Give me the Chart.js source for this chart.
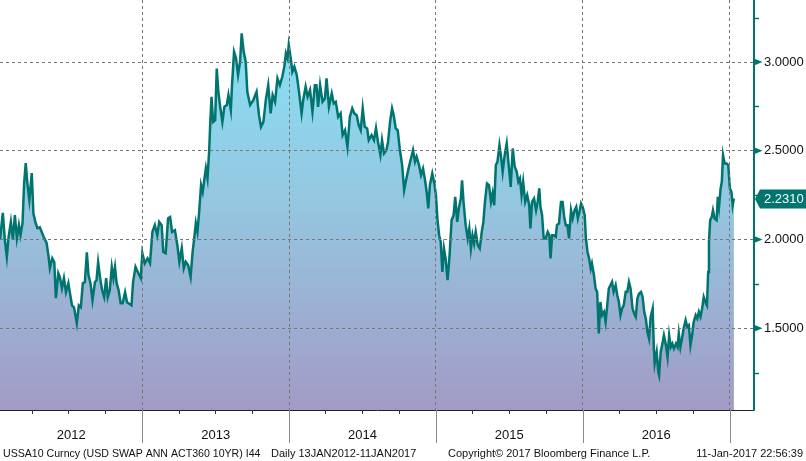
<!DOCTYPE html>
<html>
<head>
<meta charset="utf-8">
<script src="https://cdn.jsdelivr.net/npm/chart.js@4.4.1/dist/chart.umd.min.js"></script>
<style>
    html, body { margin: 0; padding: 0; background: #ffffff; }
    #grafico { display: block; }
</style>
</head>
<body>
<canvas id="grafico" width="806" height="461"></canvas>
<script>
// giorni dal 13 gen 2012 e tasso swap USD 10Y (lettura dal grafico)
const dayOffsets = [
    0, 7, 12, 17, 21, 27, 32, 37, 42, 47,
    51, 56, 60, 64, 68, 73, 79, 83, 88, 93,
    99, 104, 109, 116, 121, 124, 130, 135, 139, 145,
    149, 154, 159, 164, 170, 174, 179, 184, 191, 196,
    201, 206, 211, 216, 220, 225, 230, 236, 240, 244,
    249, 254, 259, 264, 268, 273, 278, 282, 286, 290,
    295, 300, 305, 311, 316, 327, 331, 337, 344, 350,
    354, 360, 367, 373, 379, 385, 391, 396, 402, 406,
    412, 418, 423, 428, 435, 441, 446, 452, 457, 462,
    468, 474, 479, 483, 487, 491, 495, 500, 504, 508,
    512, 516, 520, 523, 526, 530, 535, 539, 543, 547,
    553, 558, 564, 568, 574, 577, 582, 587, 592, 597,
    601, 606, 611, 615, 622, 630, 638, 644, 649, 655,
    661, 667, 673, 678, 684, 690, 696, 702, 707, 711,
    715, 718, 723, 727, 732, 738, 743, 750, 754, 760,
    765, 771, 777, 783, 787, 791, 796, 802, 808, 812,
    818, 825, 830, 835, 841, 847, 852, 858, 864, 870,
    876, 881, 887, 892, 897, 902, 907, 913, 917, 924,
    930, 935, 940, 946, 950, 955, 961, 965, 970, 975,
    979, 984, 989, 994, 1000, 1005, 1009, 1015, 1022, 1027,
    1032, 1036, 1042, 1047, 1052, 1057, 1061, 1065, 1069, 1075,
    1080, 1084, 1088, 1092, 1096, 1100, 1104, 1108, 1113, 1118,
    1123, 1128, 1132, 1137, 1141, 1146, 1149, 1153, 1158, 1163,
    1167, 1171, 1175, 1179, 1183, 1188, 1193, 1198, 1202, 1206,
    1211, 1216, 1221, 1225, 1229, 1233, 1237, 1242, 1246, 1250,
    1255, 1260, 1265, 1270, 1275, 1280, 1285, 1289, 1293, 1297,
    1301, 1306, 1311, 1316, 1319, 1323, 1328, 1333, 1337, 1341,
    1344, 1348, 1352, 1357, 1362, 1366, 1369, 1373, 1377, 1382,
    1385, 1390, 1395, 1399, 1403, 1407, 1411, 1415, 1420, 1424,
    1429, 1433, 1437, 1441, 1445, 1449, 1454, 1457, 1461, 1465,
    1469, 1472, 1477, 1481, 1485, 1489, 1493, 1497, 1502, 1506,
    1510, 1514, 1518, 1522, 1526, 1531, 1535, 1539, 1543, 1547,
    1551, 1556, 1560, 1564, 1568, 1573, 1577, 1581, 1585, 1589,
    1594, 1598, 1602, 1606, 1610, 1614, 1618, 1623, 1626, 1628,
    1633, 1637, 1639, 1643, 1648, 1651, 1656, 1660, 1664, 1668,
    1672, 1676, 1681, 1685, 1688, 1692, 1696, 1700, 1705, 1709,
    1713, 1717, 1721, 1725, 1730, 1734, 1738, 1742, 1746, 1750,
    1754, 1758, 1761, 1763, 1766, 1770, 1773, 1777, 1782, 1785,
    1788, 1792, 1795, 1798, 1802, 1807, 1811, 1815, 1819, 1822, 1825
];
const swapRates = [
    2.000, 2.150, 2.000, 1.902, 2.007, 2.099, 2.000, 2.137, 2.007, 2.081,
    2.024, 2.092, 2.318, 2.430, 2.318, 2.222, 2.374, 2.148, 2.098, 2.064,
    2.069, 2.041, 2.013, 1.979, 1.900, 1.838, 1.894, 1.872, 1.669, 1.810,
    1.787, 1.725, 1.782, 1.703, 1.754, 1.697, 1.629, 1.618, 1.528, 1.629,
    1.618, 1.754, 1.759, 1.928, 1.799, 1.754, 1.658, 1.759, 1.770, 1.872,
    1.782, 1.714, 1.675, 1.782, 1.675, 1.714, 1.844, 1.782, 1.844, 1.754,
    1.714, 1.641, 1.641, 1.703, 1.646, 1.629, 1.761, 1.846, 1.810, 1.782,
    1.923, 1.866, 1.894, 1.866, 2.043, 2.081, 2.024, 2.099, 2.081, 1.930,
    1.923, 2.120, 2.127, 2.043, 2.052, 1.968, 1.874, 1.951, 1.838, 1.874,
    1.855, 1.789, 1.930, 2.007, 2.092, 2.043, 2.148, 2.306, 2.268, 2.334,
    2.402, 2.346, 2.494, 2.663, 2.804, 2.663, 2.673, 2.964, 2.833, 2.758,
    2.663, 2.748, 2.758, 2.814, 2.729, 2.870, 3.058, 3.021, 2.927, 3.002,
    3.162, 3.058, 3.002, 2.833, 2.758, 2.786, 2.833, 2.701, 2.635, 2.663,
    2.786, 2.870, 2.711, 2.814, 2.776, 2.908, 2.870, 2.917, 2.974, 3.049,
    3.021, 3.096, 3.021, 2.945, 2.974, 2.927, 2.842, 2.711, 2.786, 2.861,
    2.804, 2.842, 2.720, 2.870, 2.870, 2.748, 2.870, 2.776, 2.795, 2.908,
    2.748, 2.823, 2.767, 2.776, 2.691, 2.711, 2.588, 2.616, 2.522, 2.691,
    2.739, 2.711, 2.701, 2.645, 2.616, 2.739, 2.635, 2.626, 2.560, 2.588,
    2.560, 2.628, 2.550, 2.476, 2.560, 2.485, 2.504, 2.550, 2.663, 2.739,
    2.701, 2.626, 2.616, 2.513, 2.419, 2.278, 2.325, 2.391, 2.457, 2.504,
    2.438, 2.466, 2.419, 2.363, 2.400, 2.334, 2.268, 2.175, 2.306, 2.372,
    2.316, 2.250, 2.109, 2.024, 1.987, 1.817, 1.949, 1.893, 1.771, 1.912,
    2.109, 2.137, 2.240, 2.099, 2.175, 2.231, 2.334, 2.203, 2.081, 2.006,
    2.062, 1.949, 2.024, 1.978, 2.043, 1.968, 1.949, 2.043, 2.099, 2.212,
    2.316, 2.306, 2.212, 2.260, 2.193, 2.419, 2.438, 2.532, 2.466, 2.381,
    2.476, 2.541, 2.419, 2.297, 2.513, 2.410, 2.381, 2.325, 2.344, 2.250,
    2.325, 2.212, 2.250, 2.193, 2.062, 2.212, 2.231, 2.165, 2.212, 2.288,
    2.184, 2.137, 2.006, 2.006, 2.043, 2.024, 1.893, 2.024, 2.024, 2.015,
    2.081, 2.090, 2.212, 2.212, 2.127, 2.081, 2.081, 2.006, 2.165, 2.118,
    2.165, 2.184, 2.118, 2.156, 2.203, 2.184, 2.137, 2.006, 1.930, 1.893,
    1.836, 1.865, 1.799, 1.724, 1.705, 1.470, 1.648, 1.573, 1.592, 1.535,
    1.629, 1.724, 1.742, 1.761, 1.705, 1.742, 1.686, 1.648, 1.573, 1.611,
    1.629, 1.705, 1.705, 1.761, 1.724, 1.611, 1.583, 1.564, 1.667, 1.695,
    1.705, 1.676, 1.592, 1.554, 1.479, 1.442, 1.564, 1.611, 1.385, 1.301,
    1.366, 1.253, 1.235, 1.366, 1.422, 1.460, 1.404, 1.338, 1.460, 1.394,
    1.413, 1.385, 1.413, 1.394, 1.470, 1.394, 1.442, 1.498, 1.545, 1.507,
    1.517, 1.404, 1.460, 1.535, 1.573, 1.554, 1.592, 1.564, 1.611, 1.676,
    1.648, 1.629, 1.817, 1.987, 2.109, 2.127, 2.165, 2.118, 2.109, 2.240,
    2.184, 2.288, 2.325, 2.476, 2.429, 2.429, 2.419, 2.288, 2.268, 2.193, 2.231
];

// asse x: confini degli anni e dei trimestri (giorni dal 13 gen 2012)
const yearBounds = [0, 354, 719, 1084, 1449, 1815];
const yearLabels = ['2012', '2013', '2014', '2015', '2016'];
const quarterStarts = [79, 170, 262, 354, 444, 535, 627, 719, 809, 900, 992, 1084,
    1174, 1265, 1357, 1449, 1540, 1631, 1723, 1815];
const xMax = 1875;

// asse y
const yMajorTicks = [1.5, 2.0, 2.5, 3.0];
const yMinorTicks = [1.25, 1.75, 2.25, 2.75, 3.25];
const yMin = 1.039;
const yMax = 3.35;

const footerLeft = 'USSA10 Curncy (USD SWAP ANN ACT360 10YR) I44';
const footerRange = 'Daily 13JAN2012-11JAN2017';
const footerCopy = 'Copyright\u00A9 2017 Bloomberg Finance L.P.';
const footerStamp = '11-Jan-2017 22:56:39';

const TEAL = '#00756f';
const FONT = "'Liberation Sans', Arial, sans-serif";

const punti = dayOffsets.map((d, i) => ({ x: d, y: swapRates[i] }));
const yearMids = yearLabels.map((_, i) => (yearBounds[i] + yearBounds[i + 1]) / 2);
const yAllTicks = yMajorTicks.concat(yMinorTicks).sort((a, b) => a - b);
const isMajor = v => yMajorTicks.some(m => Math.abs(m - v) < 1e-6);

// niente margini extra: l'area del grafico parte da 0,0
function senzaPadding(s) {
    s.paddingTop = 0;
    s.paddingBottom = 0;
    s.paddingLeft = 0;
    s.paddingRight = 0;
}

function riempimento(ctx) {
    const area = ctx.chart.chartArea;
    if (!area) return 'rgba(150,200,225,1)';
    const g = ctx.chart.ctx.createLinearGradient(0, area.top, 0, area.bottom);
    g.addColorStop(0, '#86e6f8');
    g.addColorStop(0.5, '#95c6e0');
    g.addColorStop(1, '#a29bc6');
    return g;
}

// disegna tacche, freccette, etichetta ultimo valore e piè di pagina
const dettagli = {
    id: 'dettagli',
    afterDraw(chart) {
        const { ctx, chartArea: a, scales } = chart;
        const x = scales.x, y = scales.y;
        ctx.save();

        // linee sotto l'asse x
        quarterStarts.forEach(d => {
            const px = Math.round(x.getPixelForValue(d)) + 0.5;
            const anno = yearBounds.includes(d);
            ctx.strokeStyle = anno ? '#8a8a8a' : '#333333';
            ctx.lineWidth = 1;
            ctx.beginPath();
            ctx.moveTo(px, a.bottom);
            ctx.lineTo(px, a.bottom + (anno ? 33 : 4));
            ctx.stroke();
        });

        // tacche asse destro
        ctx.fillStyle = TEAL;
        ctx.strokeStyle = TEAL;
        yAllTicks.forEach(v => {
            const py = y.getPixelForValue(v);
            if (isMajor(v)) {
                ctx.beginPath();
                ctx.moveTo(a.right, py - 3.5);
                ctx.lineTo(a.right + 8.5, py);
                ctx.lineTo(a.right, py + 3.5);
                ctx.closePath();
                ctx.fill();
            } else {
                ctx.lineWidth = 1.5;
                ctx.beginPath();
                ctx.moveTo(a.right, Math.round(py) + 0.5);
                ctx.lineTo(a.right + 5, Math.round(py) + 0.5);
                ctx.stroke();
            }
        });

        // etichetta ultimo valore
        const ultimo = swapRates[swapRates.length - 1];
        const py = Math.round(y.getPixelForValue(ultimo));
        ctx.beginPath();
        ctx.moveTo(a.right + 1, py);
        ctx.lineTo(a.right + 6, py - 9.5);
        ctx.lineTo(chart.width, py - 9.5);
        ctx.lineTo(chart.width, py + 9.5);
        ctx.lineTo(a.right + 6, py + 9.5);
        ctx.closePath();
        ctx.fill();
        ctx.fillStyle = '#ffffff';
        ctx.font = '13px ' + FONT;
        ctx.textBaseline = 'middle';
        ctx.textAlign = 'left';
        ctx.fillText(ultimo.toFixed(4), a.right + 10, py + 0.5);

        // piè di pagina
        ctx.fillStyle = '#111111';
        ctx.textBaseline = 'alphabetic';
        ctx.font = '10.6px ' + FONT;
        ctx.fillText(footerLeft, 3, 457);
        ctx.font = '11px ' + FONT;
        ctx.fillText(footerRange, 271, 457);
        ctx.fillText(footerCopy, 448, 457);
        ctx.textAlign = 'right';
        ctx.fillText(footerStamp, 803, 457);

        ctx.restore();
    }
};

new Chart(document.getElementById('grafico'), {
    type: 'line',
    data: {
        datasets: [{
            label: 'USSA10',
            data: punti,
            borderColor: TEAL,
            borderWidth: 2.5,
            pointRadius: 0,
            tension: 0,
            fill: 'start',
            backgroundColor: riempimento
        }]
    },
    options: {
        responsive: false,
        animation: false,
        devicePixelRatio: 1,
        events: [],
        layout: { padding: 0 },
        plugins: { legend: { display: false }, tooltip: { enabled: false } },
        scales: {
            x: {
                type: 'linear',
                position: 'bottom',
                min: 0,
                max: xMax,
                afterBuildTicks: s => { s.ticks = quarterStarts.map(v => ({ value: v })); },
                afterFit: s => { s.height = 0; senzaPadding(s); },
                ticks: { display: false },
                grid: {
                    z: 1,
                    drawTicks: false,
                    lineWidth: 1,
                    color: c => (c.tick && yearBounds.includes(c.tick.value)) ? '#777777' : 'rgba(0,0,0,0)'
                },
                border: { display: true, color: '#222222', width: 1, dash: [3, 3], z: 1 }
            },
            anni: {
                type: 'linear',
                position: 'bottom',
                min: 0,
                max: xMax,
                afterBuildTicks: s => { s.ticks = yearMids.map(v => ({ value: v })); },
                afterFit: s => { s.height = 51; senzaPadding(s); },
                ticks: {
                    autoSkip: false,
                    maxRotation: 0,
                    padding: 18,
                    color: '#111111',
                    font: { family: FONT, size: 13 },
                    callback: (v, i) => yearLabels[i]
                },
                grid: { display: false, drawTicks: false },
                border: { display: false }
            },
            y: {
                type: 'linear',
                position: 'right',
                min: yMin,
                max: yMax,
                afterBuildTicks: s => { s.ticks = yAllTicks.map(v => ({ value: v })); },
                afterFit: s => { s.width = 52; senzaPadding(s); },
                ticks: {
                    padding: 10,
                    color: '#111111',
                    font: { family: FONT, size: 13 },
                    callback: v => isMajor(v) ? v.toFixed(4) : ''
                },
                grid: {
                    z: 1,
                    drawTicks: false,
                    lineWidth: 1,
                    color: c => (c.tick && isMajor(c.tick.value)) ? '#777777' : 'rgba(0,0,0,0)'
                },
                border: { display: true, color: TEAL, width: 2, dash: [3, 3], z: 1 }
            }
        }
    },
    plugins: [dettagli]
});
</script>
</body>
</html>
